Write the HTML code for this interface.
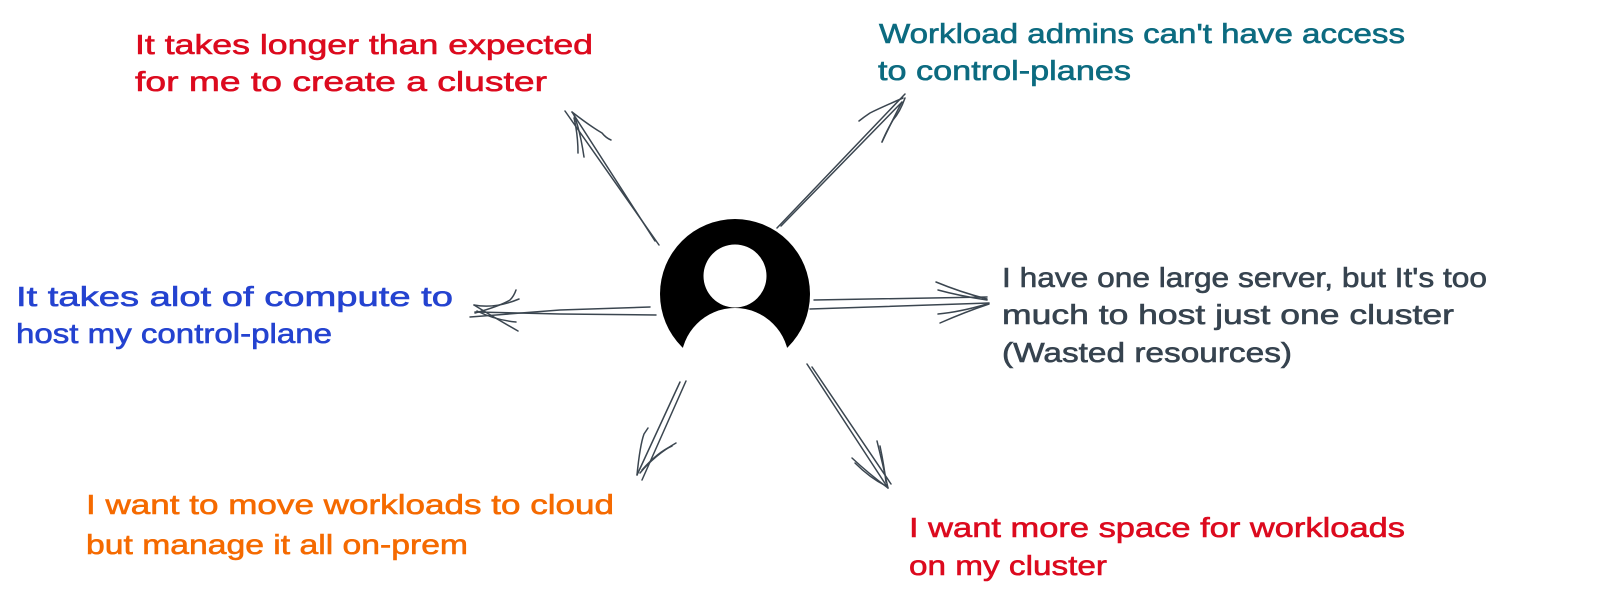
<!DOCTYPE html>
<html lang="en">
<head>
<meta charset="utf-8">
<title>Diagram</title>
<style>
html,body{margin:0;padding:0;background:#fff;width:1600px;height:614px;overflow:hidden}
svg{display:block}
text{font-family:"Liberation Sans",sans-serif;font-size:28px;stroke-width:.6px}
.r{fill:#dc0a1e;stroke:#dc0a1e}
.t{fill:#0c6b80;stroke:#0c6b80}
.b{fill:#2443d0;stroke:#2443d0}
.g{fill:#36434f;stroke:#36434f}
.o{fill:#f56a00;stroke:#f56a00}
.a{fill:none;stroke:#3b4650;stroke-width:1.5;stroke-linecap:round;stroke-linejoin:round}
</style>
</head>
<body>
<svg width="1600" height="614" viewBox="0 0 1600 614" xmlns="http://www.w3.org/2000/svg">
<rect width="1600" height="614" fill="#fff"/>

<!-- user icon -->
<circle cx="735" cy="294" r="75" fill="#000"/>
<circle cx="735" cy="276" r="31.5" fill="#fff"/>
<circle cx="735" cy="362" r="54" fill="#fff"/>

<!-- arrows -->
<g class="a">
<!-- top-left -->
<path d="M659 245L565 111"/>
<path d="M655 241L572 112"/>
<path d="M572 112Q590 126 602 133Q606 138 611 140"/>
<path d="M574 115Q580 130 584 157"/>
<path d="M574 118Q578 135 578 153"/>
<!-- top-right -->
<path d="M777 228L905 94"/>
<path d="M781 226L902 102"/>
<path d="M903 98Q880 108 870 113Q864 117 859 121"/>
<path d="M905 98Q900 112 893 120Q886 132 882 142"/>
<path d="M902 102Q895 115 882 142"/>
<!-- left -->
<path d="M650 307L560 310L470 317"/>
<path d="M656 315L560 314L475 312"/>
<path d="M474 305Q495 318 518 331"/>
<path d="M477 311Q495 320 516 322"/>
<path d="M475 313Q500 306 510 300Q514 296 516 290"/>
<path d="M474 305Q495 309 519 299"/>
<!-- right -->
<path d="M814 300L987 297"/>
<path d="M810 309L989 303"/>
<path d="M987 299Q960 292 936 282"/>
<path d="M987 300Q960 296 938 290"/>
<path d="M989 304Q965 312 940 323"/>
<path d="M987 304Q960 312 938 314"/>
<!-- bottom-left -->
<path d="M680 382L637 475"/>
<path d="M686 381L642 480"/>
<path d="M637 475Q640 445 644 434Q646 431 648 428"/>
<path d="M640 473Q655 455 676 443"/>
<path d="M642 470Q658 452 672 446"/>
<!-- bottom-right -->
<path d="M807 364L888 488"/>
<path d="M812 367L891 484"/>
<path d="M888 488Q868 473 852 458"/>
<path d="M886 486Q870 478 855 463"/>
<path d="M888 488Q883 465 877 441"/>
<path d="M886 482Q884 465 880 446"/>
</g>

<!-- labels -->
<text class="r" x="135" y="54" textLength="458" lengthAdjust="spacingAndGlyphs">It takes longer than expected</text>
<text class="r" x="135" y="91" textLength="412" lengthAdjust="spacingAndGlyphs">for me to create a cluster</text>

<text class="t" x="879" y="43" textLength="526" lengthAdjust="spacingAndGlyphs">Workload admins can't have access</text>
<text class="t" x="878" y="80" textLength="253" lengthAdjust="spacingAndGlyphs">to control-planes</text>

<text class="b" x="16" y="306" textLength="437" lengthAdjust="spacingAndGlyphs">It takes alot of compute to</text>
<text class="b" x="16" y="343" textLength="316" lengthAdjust="spacingAndGlyphs">host my control-plane</text>

<text class="g" x="1002" y="287" textLength="485" lengthAdjust="spacingAndGlyphs">I have one large server, but It's too</text>
<text class="g" x="1002" y="324" textLength="452" lengthAdjust="spacingAndGlyphs">much to host just one cluster</text>
<text class="g" x="1002" y="362" textLength="290" lengthAdjust="spacingAndGlyphs">(Wasted resources)</text>

<text class="o" x="86" y="514" textLength="528" lengthAdjust="spacingAndGlyphs">I want to move workloads to cloud</text>
<text class="o" x="86" y="554" textLength="382" lengthAdjust="spacingAndGlyphs">but manage it all on-prem</text>

<text class="r" x="909" y="537" textLength="496" lengthAdjust="spacingAndGlyphs">I want more space for workloads</text>
<text class="r" x="909" y="575" textLength="198" lengthAdjust="spacingAndGlyphs">on my cluster</text>
</svg>
</body>
</html>
